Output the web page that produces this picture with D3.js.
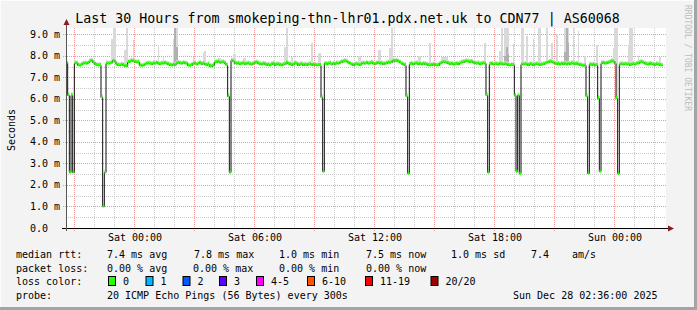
<!DOCTYPE html>
<html>
<head>
<meta charset="utf-8">
<script src="https://cdn.jsdelivr.net/npm/d3@7"></script>
<style>
  body { margin: 0; background: #f3f3f3; }
  svg { display: block; }
  text { font-family: "DejaVu Sans Mono", monospace; fill: #000; }
</style>
</head>
<body>
<svg id="chart" width="697" height="310"></svg>
<script>

//******************************************************************************
//**  Data
//******************************************************************************
var startTime = new Date(2025, 11, 26, 20, 36, 0);
var endTime   = new Date(2025, 11, 28, 2, 36, 0);
var stepSec   = 300;

// median rtt in ms, one value per 5 min sample, one row per hour
var medianRtt = [
  7.70,6.20,2.60,6.20,2.60,7.68,7.68,7.60,7.57,7.62,7.66,7.68,
  7.66,7.70,7.78,7.80,7.72,7.64,7.60,7.58,7.60,6.10,1.02,2.60,
  7.68,7.66,7.68,7.70,7.80,7.76,7.62,7.60,7.58,7.62,7.60,7.55,
  7.55,7.74,7.76,7.80,7.78,7.74,7.72,7.74,7.58,7.56,7.57,7.62,
  7.66,7.68,7.66,7.64,7.68,7.66,7.70,7.66,7.64,7.68,7.66,7.70,
  7.66,7.64,7.60,7.58,7.62,7.60,7.68,7.70,7.68,7.66,7.70,7.68,
  7.66,7.58,7.56,7.60,7.66,7.68,7.62,7.66,7.70,7.64,7.68,7.62,
  7.60,7.64,7.55,7.54,7.58,7.72,7.74,7.76,7.70,7.72,7.74,7.68,
  7.60,6.15,2.60,7.80,7.78,7.68,7.66,7.68,7.64,7.66,7.68,7.64,
  7.66,7.68,7.64,7.62,7.66,7.70,7.72,7.68,7.64,7.62,7.66,7.64,
  7.60,7.62,7.58,7.64,7.66,7.60,7.62,7.64,7.60,7.58,7.62,7.64,
  7.72,7.66,7.64,7.60,7.62,7.68,7.66,7.60,7.62,7.64,7.60,7.62,
  7.60,7.62,7.64,7.60,7.62,7.60,7.58,7.60,7.60,6.10,2.64,7.66,
  7.64,7.66,7.68,7.62,7.66,7.64,7.68,7.66,7.70,7.74,7.76,7.78,
  7.76,7.70,7.66,7.62,7.60,7.62,7.64,7.62,7.60,7.66,7.68,7.66,
  7.70,7.66,7.68,7.72,7.66,7.64,7.68,7.70,7.66,7.68,7.64,7.66,
  7.68,7.72,7.70,7.74,7.80,7.78,7.80,7.76,7.72,7.66,7.62,7.60,
  6.15,2.55,7.64,7.66,7.62,7.66,7.68,7.64,7.66,7.62,7.66,7.64,
  7.62,7.60,7.58,7.60,7.62,7.60,7.58,7.60,7.66,7.70,7.74,7.72,
  7.70,7.68,7.64,7.66,7.62,7.64,7.66,7.64,7.68,7.72,7.74,7.76,
  7.78,7.76,7.74,7.76,7.70,7.68,7.66,7.68,7.64,7.66,7.68,7.66,
  6.20,2.60,7.64,7.66,7.62,7.64,7.64,7.62,7.66,7.64,7.62,7.64,
  7.62,7.60,7.58,7.60,7.60,6.18,2.64,6.18,2.54,7.62,7.62,7.64,
  7.62,7.60,7.64,7.62,7.60,7.62,7.64,7.62,7.60,7.62,7.64,7.66,
  7.70,7.72,7.76,7.74,7.70,7.66,7.64,7.66,7.62,7.66,7.64,7.66,
  7.62,7.66,7.64,7.68,7.66,7.64,7.66,7.62,7.60,7.58,7.56,7.58,
  6.15,2.56,7.62,7.60,7.62,7.58,7.60,6.06,2.64,7.68,7.70,7.66,
  7.68,7.70,7.74,7.78,7.76,7.68,6.06,2.54,7.62,7.64,7.62,7.64,
  7.62,7.64,7.60,7.62,7.64,7.62,7.66,7.68,7.72,7.74,7.70,7.66,
  7.64,7.62,7.66,7.64,7.62,7.60,7.64,7.62,7.60,7.58
];

// smoke spikes: [sample, max ping ms, dark band top ms (0 = none)]
var smokeSpikes = [
  [27,8.77,0],[28,9.30,0],[29,9.30,0],[35,8.30,0],[36,9.30,0],[40,8.72,0],
  [55,8.53,0],[58,7.94,0],[64,8.80,0],[65,9.30,9.30],[66,9.30,8.40],
  [76,7.95,0],[82,8.15,0],[83,8.22,0],[91,7.90,0],[92,7.90,0],
  [100,8.07,0],[101,8.07,0],[106,7.90,0],[107,7.90,0],
  [131,8.40,0],[132,9.28,0],[135,7.95,0],[147,8.61,0],[151,8.07,0],[152,8.15,0],
  [167,7.90,0],[175,8.00,0],[176,8.00,0],[187,8.26,0],[188,8.30,0],
  [194,8.38,0],[195,9.28,0],[211,8.00,0],[212,8.00,0],[218,8.62,0],
  [225,7.95,0],[226,7.95,0],[227,7.95,0],[228,7.95,0],
  [251,8.61,0],[260,8.22,0],[261,9.28,0],[263,9.28,8.00],[264,9.28,8.40],[265,9.28,8.10],
  [268,8.57,0],[273,9.28,0],[274,9.28,0],[276,8.92,0],[280,8.77,0],
  [283,9.28,0],[284,9.28,0],[288,9.28,0],[291,8.61,0],[294,9.03,0],
  [299,9.28,8.20],[300,9.28,9.28],[301,9.28,8.60],[304,9.28,0],[307,9.15,0],
  [311,8.00,0],[318,8.53,0],[328,8.38,0],[329,9.28,0],[330,9.28,0],
  [337,8.53,0],[338,9.28,0],[339,9.28,0],[343,8.00,0],[356,7.95,0]
];

var yTicks      = [0, 1, 2, 3, 4, 5, 6, 7, 8, 9];
var yTickLabels = ["0.0", "1.0 m", "2.0 m", "3.0 m", "4.0 m", "5.0 m", "6.0 m", "7.0 m", "8.0 m", "9.0 m"];
var xTickLabels = ["Sat 00:00", "Sat 06:00", "Sat 12:00", "Sat 18:00", "Sun 00:00"];

var lossNames  = ["0", "1", "2", "3", "4-5", "6-10", "11-19", "20/20"];
var lossColors = ["#26ff00", "#00b8ff", "#0059ff", "#5e00ff", "#ff00ff", "#ff5500", "#ff0000", "#a10000"];

var rttStats  = ["7.4 ms avg", "7.8 ms max", "1.0 ms min", "7.5 ms now", "1.0 ms sd", "7.4", "am/s"];
var lossStats = ["0.00 % avg", "0.00 % max", "0.00 % min", "0.00 % now"];

var titleText = "Last 30 Hours from smokeping-thn-lhr01.pdx.net.uk to CDN77 | AS60068";
var probeText = "20 ICMP Echo Pings (56 Bytes) every 300s";
var dateText  = "Sun Dec 28 02:36:00 2025";


//******************************************************************************
//**  Chart
//******************************************************************************
var svg = d3.select("#chart");
var W = 697, H = 310;
var plot = {left: 66, right: 666, top: 28, bottom: 228};

var x = d3.scaleTime().domain([startTime, endTime]).range([plot.left, plot.right]);
var y = d3.scaleLinear().domain([0, 9.3]).range([plot.bottom, plot.top]);

var sampleTime = function(i){ return new Date(startTime.getTime() + i * stepSec * 1000); };
var crisp = function(v){ return Math.round(v) + 0.5; };

// background + frame
svg.append("rect").attr("width", W).attr("height", H).attr("fill", "#f3f3f3");
svg.append("rect").attr("x", 0).attr("y", 0).attr("width", W).attr("height", 1).attr("fill", "#fcfcfc");
svg.append("rect").attr("x", 0).attr("y", 0).attr("width", 1).attr("height", H).attr("fill", "#fcfcfc");
svg.append("rect").attr("x", W - 3).attr("y", 0).attr("width", 3).attr("height", H).attr("fill", "#a4a4a4");
svg.append("rect").attr("x", 0).attr("y", H - 3).attr("width", W).attr("height", 3).attr("fill", "#a4a4a4");

// plot canvas
svg.append("rect")
    .attr("x", plot.left).attr("y", plot.top)
    .attr("width", plot.right - plot.left).attr("height", plot.bottom - plot.top)
    .attr("fill", "#ffffff");

var grid = svg.append("g").attr("fill", "none").attr("stroke-width", 1).attr("stroke-dasharray", "1,1");

// minor grid: every hour / every 0.5 ms
var hours = d3.timeHour.every(1).range(startTime, endTime);
grid.selectAll(".vmin").data(hours.filter(function(d){ return d.getHours() % 3 !== 0; }))
    .enter().append("line")
    .attr("x1", function(d){ return crisp(x(d)); }).attr("x2", function(d){ return crisp(x(d)); })
    .attr("y1", plot.top).attr("y2", plot.bottom)
    .attr("stroke", "#c8c8c8");

grid.selectAll(".hmin").data(d3.range(0.5, 9.3, 1))
    .enter().append("line")
    .attr("x1", plot.left).attr("x2", plot.right)
    .attr("y1", function(d){ return crisp(y(d)); }).attr("y2", function(d){ return crisp(y(d)); })
    .attr("stroke", "#c8c8c8");

// major grid: every 3 hours / every 1 ms
var majors = d3.timeHour.every(3).range(startTime, endTime);
grid.selectAll(".vmaj").data(majors)
    .enter().append("line")
    .attr("x1", function(d){ return crisp(x(d)); }).attr("x2", function(d){ return crisp(x(d)); })
    .attr("y1", plot.top).attr("y2", plot.bottom + 3)
    .attr("stroke", "#ee9a9a");

grid.selectAll(".hmaj").data(yTicks.slice(1))
    .enter().append("line")
    .attr("x1", plot.left - 3).attr("x2", plot.right)
    .attr("y1", function(d){ return crisp(y(d)); }).attr("y2", function(d){ return crisp(y(d)); })
    .attr("stroke", "#ee9a9a");


//******************************************************************************
//**  Smoke
//******************************************************************************
var smoke = svg.append("g");
smokeSpikes.forEach(function(s){
    var i = s[0];
    var x0 = x(sampleTime(i)), x1 = x(sampleTime(i + 1));
    var base = medianRtt[i];
    smoke.append("rect")
        .attr("x", x0).attr("width", x1 - x0)
        .attr("y", y(s[1])).attr("height", y(base) - y(s[1]))
        .attr("fill", "#d9d9d9").attr("shape-rendering", "crispEdges");
    if (s[2] > 0) {
        smoke.append("rect")
            .attr("x", x0).attr("width", x1 - x0)
            .attr("y", y(s[2])).attr("height", y(base) - y(s[2]))
            .attr("fill", "#b0b0b0").attr("shape-rendering", "crispEdges");
    }
});

// thin smoke band just above the median
smoke.selectAll(".band").data(medianRtt)
    .enter().append("rect")
    .attr("x", function(d, i){ return x(sampleTime(i)); })
    .attr("width", function(d, i){ return x(sampleTime(i + 1)) - x(sampleTime(i)); })
    .attr("y", function(d){ return y(d + 0.12); })
    .attr("height", function(d){ return y(d) - y(d + 0.12); })
    .attr("fill", "#dedede");


//******************************************************************************
//**  Median line
//******************************************************************************
var pts = medianRtt.map(function(d, i){ return [sampleTime(i), d]; });
pts.push([sampleTime(medianRtt.length), medianRtt[medianRtt.length - 1]]);

var line = d3.line()
    .x(function(d){ return x(d[0]); })
    .y(function(d){ return crisp(y(d[1])); })
    .curve(d3.curveStepAfter);

svg.append("path")
    .datum(pts)
    .attr("d", line)
    .attr("fill", "none")
    .attr("stroke", "#111")
    .attr("stroke-width", 1);

// loss coloured band (all samples 0 loss)
svg.append("g").selectAll("rect").data(medianRtt)
    .enter().append("rect")
    .attr("x", function(d, i){ return x(sampleTime(i)); })
    .attr("width", function(d, i){ return x(sampleTime(i + 1)) - x(sampleTime(i)); })
    .attr("y", function(d){ return y(d) - 1.5; })
    .attr("height", 3)
    .attr("fill", lossColors[0]);


//******************************************************************************
//**  Axes
//******************************************************************************
var axisColor = "#000";
svg.append("line")
    .attr("x1", plot.left - 4).attr("x2", plot.right + 3)
    .attr("y1", plot.bottom + 0.5).attr("y2", plot.bottom + 0.5)
    .attr("stroke", axisColor);
svg.append("line")
    .attr("x1", plot.left + 0.5).attr("x2", plot.left + 0.5)
    .attr("y1", plot.bottom + 3).attr("y2", plot.top - 3)
    .attr("stroke", "#555");
svg.append("path")
    .attr("d", "M" + (plot.right + 2) + "," + (plot.bottom - 2.5) + "l6,3l-6,3z")
    .attr("fill", "#8b1a1a");
svg.append("path")
    .attr("d", "M" + (plot.left - 2.5) + "," + (plot.top - 3) + "l3,-6l3,6z")
    .attr("fill", "#8b1a1a");

svg.selectAll(".ylab").data(yTicks)
    .enter().append("text")
    .attr("x", 30)
    .attr("y", function(d){ return y(d) + 3.5; })
    .attr("font-size", "10px")
    .text(function(d, i){ return yTickLabels[i]; });

var labelTimes = d3.timeHour.every(6).range(startTime, endTime);
svg.selectAll(".xlab").data(labelTimes)
    .enter().append("text")
    .attr("x", function(d){ return x(d) + 1; })
    .attr("y", 241)
    .attr("text-anchor", "middle")
    .attr("font-size", "10px")
    .text(function(d, i){ return xTickLabels[i]; });

svg.append("text")
    .attr("transform", "translate(15,130) rotate(-90)")
    .attr("text-anchor", "middle")
    .attr("font-size", "10px")
    .text("Seconds");

svg.append("text")
    .attr("x", 347.5).attr("y", 23)
    .attr("text-anchor", "middle")
    .attr("font-size", "13.3px")
    .text(titleText);

svg.append("text")
    .attr("transform", "translate(685,5) rotate(90)")
    .attr("font-size", "8px")
    .style("fill", "#bcbcbc")
    .text("RRDTOOL / TOBI OETIKER");


//******************************************************************************
//**  Legend
//******************************************************************************
var legend = svg.append("g").attr("font-size", "10px");
var rowY = [258, 271.5, 285, 298.5];

legend.append("text").attr("x", 16).attr("y", rowY[0]).text("median rtt:");
var rttX = [107, 194, 279, 366, 451, 531, 572];
rttStats.forEach(function(t, i){
    legend.append("text").attr("x", rttX[i]).attr("y", rowY[0]).text(t);
});

legend.append("text").attr("x", 16).attr("y", rowY[1]).text("packet loss:");
var lossX = [107, 193, 279, 366];
lossStats.forEach(function(t, i){
    legend.append("text").attr("x", lossX[i]).attr("y", rowY[1]).text(t);
});

legend.append("text").attr("x", 16).attr("y", rowY[2]).text("loss color:");
var swatchX = [108, 145.5, 182.5, 219, 256, 307, 365, 430.5];
lossNames.forEach(function(n, i){
    legend.append("rect")
        .attr("x", swatchX[i] + 0.5).attr("y", rowY[2] - 8.5)
        .attr("width", 7).attr("height", 9)
        .attr("fill", lossColors[i]).attr("stroke", "#000");
    legend.append("text").attr("x", swatchX[i] + 15).attr("y", rowY[2]).text(n);
});

legend.append("text").attr("x", 16).attr("y", rowY[3]).text("probe:");
legend.append("text").attr("x", 107).attr("y", rowY[3]).text(probeText);
legend.append("text").attr("x", 513).attr("y", rowY[3]).text(dateText);

</script>
</body>
</html>
